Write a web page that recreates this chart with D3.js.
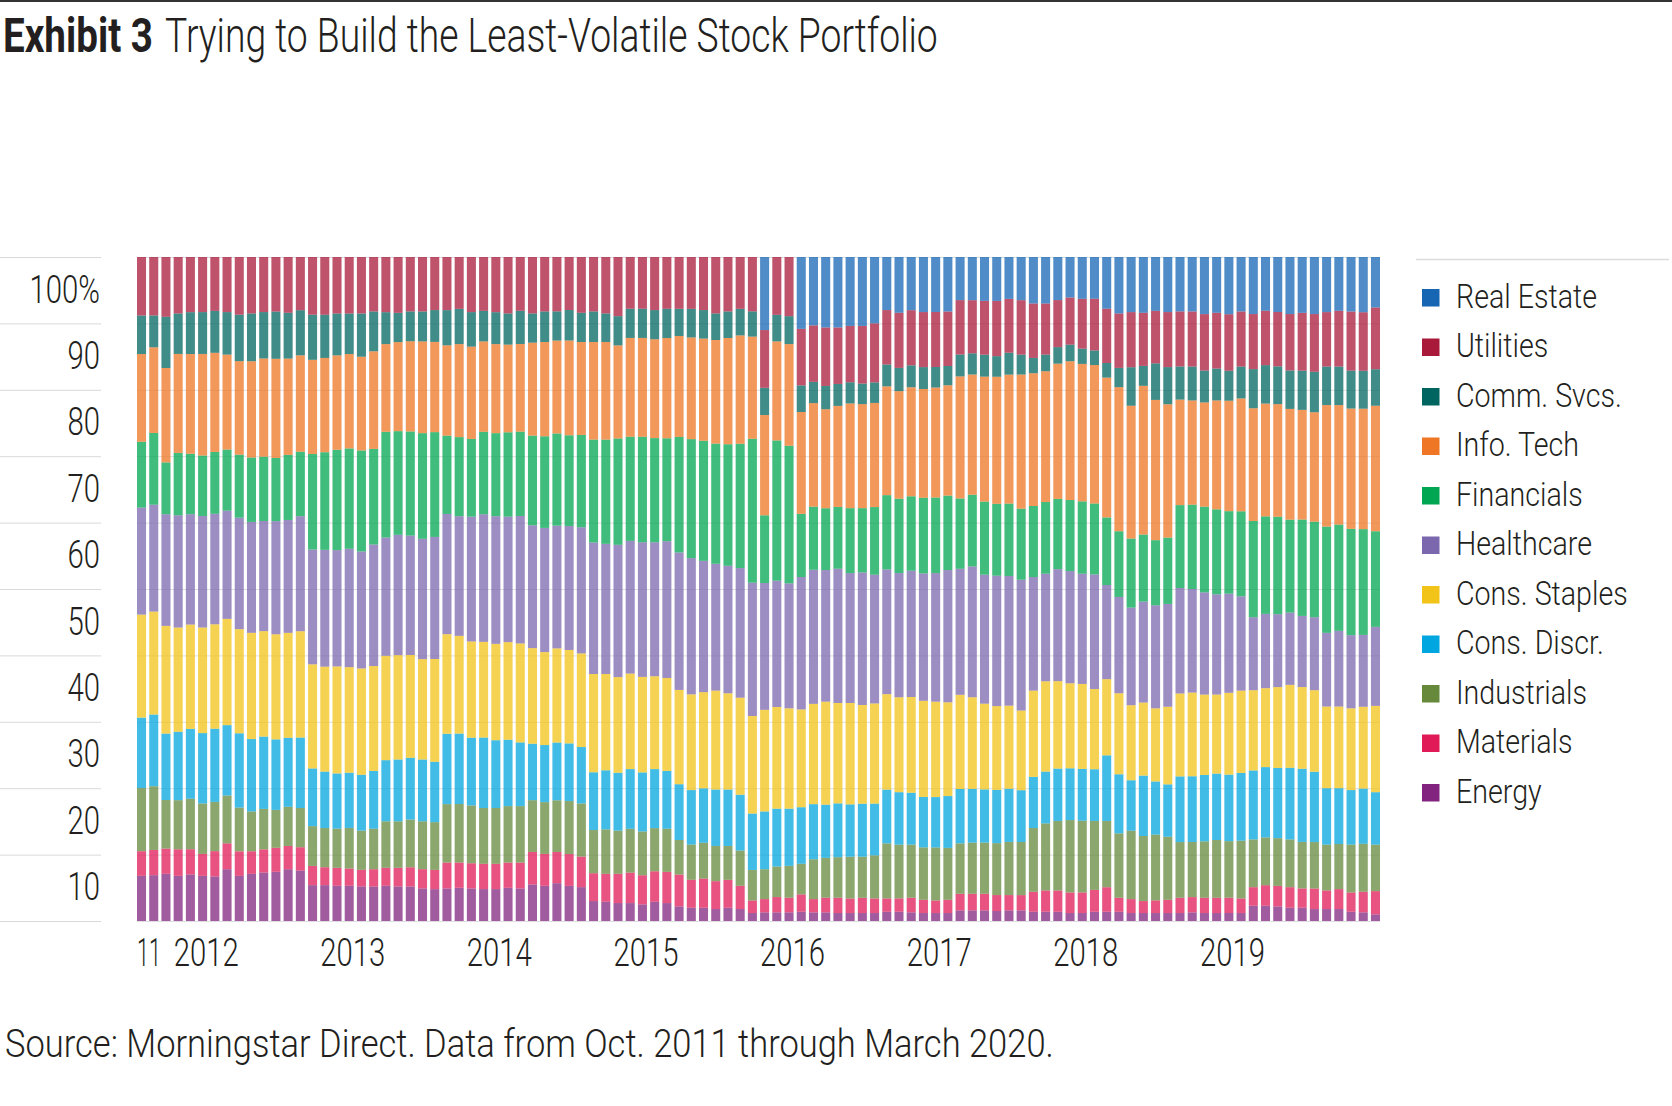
<!DOCTYPE html>
<html><head><meta charset="utf-8">
<script src="https://cdn.jsdelivr.net/npm/d3@7"></script>
<style>
html,body{margin:0;padding:0;background:#fff;}
svg{display:block;}
text{font-family:"Roboto","Liberation Sans Narrow","DejaVu Sans Condensed",sans-serif;font-weight:300;fill:#231f20;}
</style></head><body>
<svg id="chart" width="1672" height="1106"></svg>
<script>
const months = [
"2011-10","2011-11","2011-12",
"2012-01","2012-02","2012-03","2012-04","2012-05","2012-06","2012-07","2012-08","2012-09","2012-10","2012-11","2012-12",
"2013-01","2013-02","2013-03","2013-04","2013-05","2013-06","2013-07","2013-08","2013-09","2013-10","2013-11","2013-12",
"2014-01","2014-02","2014-03","2014-04","2014-05","2014-06","2014-07","2014-08","2014-09","2014-10","2014-11","2014-12",
"2015-01","2015-02","2015-03","2015-04","2015-05","2015-06","2015-07","2015-08","2015-09","2015-10","2015-11","2015-12",
"2016-01","2016-02","2016-03","2016-04","2016-05","2016-06","2016-07","2016-08","2016-09","2016-10","2016-11","2016-12",
"2017-01","2017-02","2017-03","2017-04","2017-05","2017-06","2017-07","2017-08","2017-09","2017-10","2017-11","2017-12",
"2018-01","2018-02","2018-03","2018-04","2018-05","2018-06","2018-07","2018-08","2018-09","2018-10","2018-11","2018-12",
"2019-01","2019-02","2019-03","2019-04","2019-05","2019-06","2019-07","2019-08","2019-09","2019-10","2019-11","2019-12",
"2020-01","2020-02","2020-03"];

// stacking order, bottom to top
const sectors = ["Energy","Materials","Industrials","Cons. Discr.","Cons. Staples","Healthcare","Financials","Info. Tech","Comm. Svcs.","Utilities","Real Estate"];
const sectorColors = ["#82247f","#e01a57","#66893c","#00a6df","#f2c318","#7b67ad","#00a651","#ee7624","#006560","#a8193a","#1666b4"];

// portfolio weights, % (Oct 2011 .. Mar 2020)
const energy = [6.8,6.9,7.1,6.8,7.0,6.8,6.7,7.8,6.8,7.1,7.3,7.4,7.8,7.6,5.4,5.4,5.3,5.3,5.2,5.2,5.3,5.2,5.2,4.9,4.8,4.9,5.0,4.9,4.8,4.8,5.0,4.9,5.5,5.3,5.7,5.3,5.1,3.0,2.9,2.7,2.7,2.5,2.9,2.7,2.2,2.0,2.0,1.8,2.0,1.8,1.2,1.3,1.3,1.3,1.4,1.3,1.3,1.2,1.2,1.2,1.2,1.4,1.4,1.3,1.2,1.2,1.2,1.6,1.6,1.6,1.5,1.6,1.6,1.4,1.4,1.4,1.2,1.2,1.4,1.4,1.4,1.2,1.2,1.2,1.2,1.2,1.3,1.2,1.2,1.2,1.2,2.3,2.3,2.2,2.0,2.0,1.8,1.8,1.8,1.4,1.3,1.0];
const materials = [3.7,3.8,3.8,4.0,3.8,3.3,3.8,3.9,3.7,3.4,3.5,3.6,3.5,3.5,2.9,2.7,2.7,2.6,2.5,2.6,2.7,2.8,2.9,2.9,2.9,3.9,3.8,3.8,3.8,3.8,3.8,3.9,4.9,4.8,4.7,4.8,4.6,4.2,4.2,4.4,4.6,4.4,4.6,4.7,4.8,4.2,4.4,4.2,4.2,3.5,1.9,2.0,2.3,2.2,2.6,2.0,2.2,2.3,2.2,2.3,2.2,2.0,2.0,2.2,2.0,1.9,2.0,2.5,2.5,2.5,2.4,2.3,2.3,3.0,3.2,3.2,3.1,3.1,3.3,3.7,2.1,2.1,1.8,1.9,2.0,2.3,2.3,2.3,2.3,2.3,2.2,2.8,3.1,3.1,3.1,2.9,3.1,2.8,3.0,2.9,3.1,3.5];
const industrials = [9.5,9.6,7.3,7.4,7.6,7.6,7.4,7.2,6.6,6.0,6.1,5.7,5.9,5.9,6.0,5.9,5.9,6.1,5.9,6.1,7.0,7.0,7.2,7.2,7.2,8.8,8.8,8.7,8.4,8.4,8.5,8.5,7.8,7.8,7.8,8.0,8.0,6.5,6.7,6.5,6.6,6.6,6.5,6.5,5.2,5.3,5.4,5.3,5.1,5.3,4.6,4.5,4.6,4.8,4.6,6.0,6.0,6.1,6.3,6.2,6.5,8.3,8.1,8.0,7.9,8.0,7.8,7.6,7.7,7.7,7.8,8.0,8.0,9.6,10.1,10.5,10.9,10.8,10.4,10.0,9.7,10.3,9.8,9.9,9.5,8.4,8.3,8.5,8.7,8.5,8.7,7.2,7.2,7.2,7.2,7.0,7.0,6.9,6.8,7.2,7.2,7.0];
const consDiscr = [10.6,10.8,10.0,10.3,10.5,10.6,11.0,10.6,11.2,10.9,10.9,10.6,10.4,10.6,8.7,8.5,8.3,8.3,8.4,8.7,9.2,9.3,9.3,9.3,9.1,10.6,10.6,10.2,10.6,10.2,10.0,9.6,8.5,8.6,8.7,8.7,8.5,8.7,8.9,8.7,9.0,8.9,8.9,8.7,8.4,8.2,8.2,8.5,8.5,8.4,8.5,8.7,8.7,8.6,8.5,8.3,8.0,8.1,7.9,8.0,7.8,8.1,7.9,7.8,7.6,7.6,7.8,8.2,8.1,8.0,8.0,8.0,7.8,7.7,7.8,7.9,7.8,7.8,7.8,9.9,8.9,7.6,9.1,8.0,7.9,9.9,9.9,10.0,10.0,10.0,10.2,10.4,10.6,10.6,10.8,11.0,10.6,8.5,8.4,8.2,8.3,7.9];
const consStaples = [15.5,15.5,16.2,15.7,15.7,15.9,15.7,16.0,15.7,16.0,15.9,15.8,15.8,16.0,15.7,15.8,16.1,15.9,16.0,15.8,15.7,15.7,15.5,15.1,15.5,15.0,14.7,14.5,14.4,14.5,14.7,14.9,14.4,14.0,14.2,14.1,14.1,14.8,14.5,14.4,14.4,14.4,14.0,14.0,14.2,14.4,14.5,14.9,14.5,14.6,14.7,15.3,15.3,15.1,14.7,15.1,15.5,15.1,15.3,14.9,15.1,14.4,14.3,14.4,14.5,14.4,14.1,14.2,13.8,12.9,12.6,12.5,12.0,13.0,13.6,13.2,12.8,12.8,12.1,11.5,12.2,11.3,11.0,11.0,11.7,12.5,12.6,12.1,11.9,12.3,12.4,12.1,11.9,12.2,12.5,12.3,12.3,12.3,12.3,12.3,12.3,13.0];
const healthcare = [16.1,16.1,16.8,16.9,16.6,16.8,16.6,16.3,16.8,16.7,16.6,17.0,17.0,17.3,17.3,17.6,17.5,17.8,17.6,18.3,17.8,18.1,18.0,18.1,18.4,18.1,18.0,18.8,19.2,19.2,18.9,19.2,18.5,18.7,18.5,18.7,19.0,19.8,19.6,19.9,20.0,20.3,20.2,20.6,20.7,20.5,19.8,19.1,19.2,19.5,20.1,19.1,19.0,18.8,19.9,20.2,19.8,20.2,19.6,20.0,19.4,18.8,18.7,19.0,19.2,19.4,19.9,19.0,19.7,19.4,19.6,19.5,19.7,17.1,16.2,16.9,16.9,16.6,17.3,14.2,14.5,14.7,15.2,15.5,15.5,15.9,15.6,15.4,15.1,14.9,14.2,11.0,11.2,11.0,10.9,10.7,11.0,11.1,11.4,11.0,10.8,11.9];
const financials = [9.9,10.8,7.8,9.4,9.1,9.1,9.3,9.2,9.5,9.7,9.7,9.5,9.8,9.7,14.4,14.7,15.1,15.1,15.2,14.4,15.9,15.6,15.7,15.9,15.8,11.8,11.9,11.7,12.4,12.5,12.7,12.7,13.5,13.8,13.9,13.7,13.9,15.5,15.7,16.0,15.7,15.9,15.7,15.5,17.4,17.9,18.1,18.1,18.3,18.7,21.7,10.2,21.1,20.7,9.5,9.5,9.3,9.3,9.8,9.7,10.2,11.2,11.2,11.2,11.4,11.4,11.2,10.6,10.8,11.0,10.8,10.9,10.7,10.7,10.8,10.6,10.7,10.9,10.7,10.2,9.9,10.4,10.1,9.8,10.0,12.5,12.7,12.9,12.8,12.4,12.8,14.5,14.7,14.7,14.0,14.5,14.4,16.0,16.0,16.0,15.9,14.4];
const infoTech = [13.2,12.9,14.2,14.9,15.0,15.3,14.9,14.3,14.1,14.5,14.8,14.9,14.5,14.5,14.2,14.2,14.2,14.2,14.1,14.7,13.2,13.4,13.6,13.8,13.6,13.6,14.0,13.9,13.6,13.4,13.2,13.2,14.0,14.2,14.0,14.3,14.0,14.7,14.7,14.0,14.9,14.9,14.9,15.1,15.2,15.3,15.4,15.6,16.0,16.3,15.4,15.1,14.9,15.3,15.3,15.6,14.9,15.2,15.8,15.7,15.7,16.4,16.2,16.4,16.4,16.6,16.6,18.4,18.1,18.8,19.1,19.4,20.2,20.0,19.7,20.4,20.9,20.7,20.9,21.1,21.7,20.0,22.4,21.1,20.1,15.9,15.7,15.7,16.4,16.6,17.0,17.0,17.0,17.0,16.7,16.5,16.5,18.3,18.0,18.1,18.1,18.9];
const commSvcs = [5.8,4.8,7.7,6.1,6.3,6.3,6.3,6.4,7.0,7.2,7.0,7.1,6.9,6.8,6.8,6.5,6.3,6.1,6.5,6.0,4.8,4.4,4.5,4.5,4.8,5.3,5.3,5.2,4.6,4.8,4.7,5.0,4.4,4.6,4.4,4.6,4.4,4.6,4.3,4.4,4.4,4.4,4.4,4.4,4.1,4.3,4.3,4.0,4.0,4.0,3.8,4.1,4.0,4.2,4.0,3.2,3.5,3.3,3.2,3.1,3.1,3.3,3.5,3.3,3.3,3.1,2.9,3.3,3.2,3.3,3.1,3.3,3.0,2.3,2.5,2.5,2.5,2.3,2.2,2.2,2.9,5.8,3.0,5.5,5.6,5.0,5.1,4.8,4.8,4.5,4.8,5.9,5.8,5.7,5.8,5.9,6.1,5.8,5.8,5.7,5.7,5.5];
const utilities = [8.8,8.8,9.0,8.5,8.3,8.3,8.1,8.3,8.7,8.5,8.3,8.2,8.4,8.0,8.7,8.7,8.5,8.5,8.5,8.2,8.3,8.4,8.2,8.2,8.0,8.0,7.8,8.3,8.1,8.3,8.5,8.1,8.5,8.2,8.2,8.0,8.4,8.2,8.5,8.9,7.8,7.8,8.0,7.8,7.8,7.8,8.0,8.5,8.2,7.8,8.2,8.7,8.7,8.9,8.5,8.5,8.8,8.5,8.5,8.7,8.9,8.2,8.3,8.3,8.3,8.3,8.2,8.2,8.0,8.1,8.3,8.1,8.2,8.2,7.7,7.1,7.1,7.5,7.8,8.2,8.2,8.3,8.0,7.9,8.3,8.3,8.3,8.5,8.4,8.5,8.3,8.3,8.2,8.2,8.5,8.7,8.7,8.2,8.4,8.9,8.8,9.3];
const realEstate = [0,0,0,0,0,0,0,0,0,0,0,0,0,0,0,0,0,0,0,0,0,0,0,0,0,0,0,0,0,0,0,0,0,0,0,0,0,0,0,0,0,0,0,0,0,0,0,0,0,0,0,11.0,0,0,10.8,10.3,10.6,10.6,10.4,10.4,10.0,8.0,8.4,8.0,8.3,8.3,8.2,6.5,6.5,6.6,6.6,6.3,6.5,7.0,7.0,6.5,6.1,6.3,6.3,7.8,8.5,8.3,8.4,8.1,8.3,8.2,8.2,8.6,8.4,8.6,8.2,8.6,8.1,8.3,8.6,8.4,8.6,8.3,8.1,8.2,8.3,7.6];

const seriesValues = [energy, materials, industrials, consDiscr, consStaples, healthcare, financials, infoTech, commSvcs, utilities, realEstate];

// legend order (top to bottom)
const legendOrder = ["Real Estate","Utilities","Comm. Svcs.","Info. Tech","Financials","Healthcare","Cons. Staples","Cons. Discr.","Industrials","Materials","Energy"];

const tickMonths = ["2011-10","2012-01","2013-01","2014-01","2015-01","2016-01","2017-01","2018-01","2019-01"];
const tickLabels = ["11","2012","2013","2014","2015","2016","2017","2018","2019"];
const yTickValues = [0.1,0.2,0.3,0.4,0.5,0.6,0.7,0.8,0.9,1.0];
const yTickLabels = ["10","20","30","40","50","60","70","80","90","100%"];

const titleBold = "Exhibit 3";
const titleText = "Trying to Build the Least-Volatile Stock Portfolio";
const sourceText = "Source: Morningstar Direct. Data from Oct. 2011 through March 2020.";

// ---------- build ----------
const rows = months.map((m, i) => {
  const r = {month: m};
  sectors.forEach((s, j) => r[s] = seriesValues[j][i]);
  return r;
});
const colorOf = d3.scaleOrdinal().domain(sectors).range(sectorColors);

const svg = d3.select("#chart");
const W = 1672;
const plot = {left: 137, right: 1380, top: 257, bottom: 921};

const x = d3.scaleBand().domain(months).range([plot.left, plot.right]).paddingInner(0.26).paddingOuter(0);
const y = d3.scaleLinear().domain([0, 1]).range([plot.bottom, plot.top]);

// horizontally squeeze a text to a condensed look via a transform (x/y moved into the transform)
function squeeze(sel, targetFn) {
  sel.each(function(d, i) {
    const t = d3.select(this);
    const w = this.getComputedTextLength();
    if (!(w > 0)) return;
    const k = targetFn(w, d, i) / w;
    const x0 = +t.attr("x") || 0, y0 = +t.attr("y") || 0;
    t.attr("x", 0).attr("y", 0).attr("dy", null)
     .attr("transform", `translate(${x0},${y0}) scale(${k},1)`);
  });
}
function measure(str, size, weight) {
  const t = svg.append("text").attr("font-size", size).style("font-weight", weight || 300).text(str);
  const w = t.node().getComputedTextLength();
  t.remove();
  return w;
}

// top rule
svg.append("rect").attr("x", 0).attr("y", 0).attr("width", W).attr("height", 2).attr("fill", "#333");

// title
const tb = svg.append("text").attr("x", 3).attr("y", 52).attr("font-size", 48).style("font-weight", 700).text(titleBold);
squeeze(tb, () => 150);
const tt = svg.append("text").attr("x", 165).attr("y", 52).attr("font-size", 48).style("font-weight", 300).text(titleText);
squeeze(tt, () => 773);

// gridlines: axis-label segment and plot segment
const grid = svg.append("g");
const gridVals = [0].concat(yTickValues);
grid.selectAll("line.l").data(gridVals).join("line")
  .attr("x1", 0).attr("x2", 101).attr("y1", d => y(d) + 0.5).attr("y2", d => y(d) + 0.5)
  .attr("stroke", "#d9d9d9").attr("stroke-width", 1);
grid.selectAll("line.p").data(gridVals).join("line")
  .attr("x1", plot.left).attr("x2", plot.right).attr("y1", d => y(d) + 0.5).attr("y2", d => y(d) + 0.5)
  .attr("stroke", "#dedede").attr("stroke-width", 1);

// stacked bars
const stack = d3.stack().keys(sectors).offset(d3.stackOffsetExpand);
const layers = stack(rows);
svg.append("g").selectAll("g").data(layers).join("g")
  .attr("fill", d => colorOf(d.key)).attr("fill-opacity", 0.75)
  .selectAll("rect").data(d => d).join("rect")
  .attr("x", d => x(d.data.month))
  .attr("width", x.bandwidth())
  .attr("y", d => y(d[1]))
  .attr("height", d => Math.max(0, y(d[0]) - y(d[1])));

// condense factor for 39px labels (target: "2013" ≈ 65px)
const k39 = 65 / measure("2013", 39);

// y labels
const yl = svg.append("g").selectAll("text").data(yTickValues).join("text")
  .attr("x", 100).attr("y", d => y(d) + 45.5)
  .attr("text-anchor", "end").attr("font-size", 39)
  .text((d, i) => yTickLabels[i]);
squeeze(yl, w => w * k39);

// x axis (labels left-aligned at the start of each January bar)
const xAxis = d3.axisBottom(x).tickValues(tickMonths).tickSize(0).tickPadding(0)
  .tickFormat(m => tickLabels[tickMonths.indexOf(m)]);
const gx = svg.append("g").attr("transform", `translate(0,${plot.bottom})`).call(xAxis);
gx.select(".domain").remove();
gx.attr("font-family", null).attr("font-size", null);
gx.selectAll(".tick text")
  .attr("x", -x.bandwidth() / 2).attr("y", 45).attr("dy", null)
  .attr("text-anchor", "start").attr("font-size", 39)
  .attr("fill", "#231f20");
squeeze(gx.selectAll(".tick text"), (w, d) => d === tickMonths[0] ? 24 : w * k39);

// legend
const lg = svg.append("g");
lg.append("line").attr("x1", 1416).attr("x2", 1669).attr("y1", 259.5).attr("y2", 259.5)
  .attr("stroke", "#dcdcdc").attr("stroke-width", 1.5);
const k33 = 141 / measure("Real Estate", 33);
const items = lg.selectAll("g.item").data(legendOrder).join("g").attr("class", "item")
  .attr("transform", (d, i) => `translate(0,${i * 49.5})`);
items.append("rect").attr("x", 1422).attr("y", 289).attr("width", 17.5).attr("height", 17.5)
  .attr("fill", d => colorOf(d));
const lt = items.append("text").attr("x", 1456).attr("y", 307.5).attr("font-size", 33).text(d => d);
squeeze(lt, w => w * k33);

// source
const src = svg.append("text").attr("x", 5).attr("y", 1057).attr("font-size", 39).text(sourceText);
squeeze(src, () => 1049);
</script>
</body></html>
